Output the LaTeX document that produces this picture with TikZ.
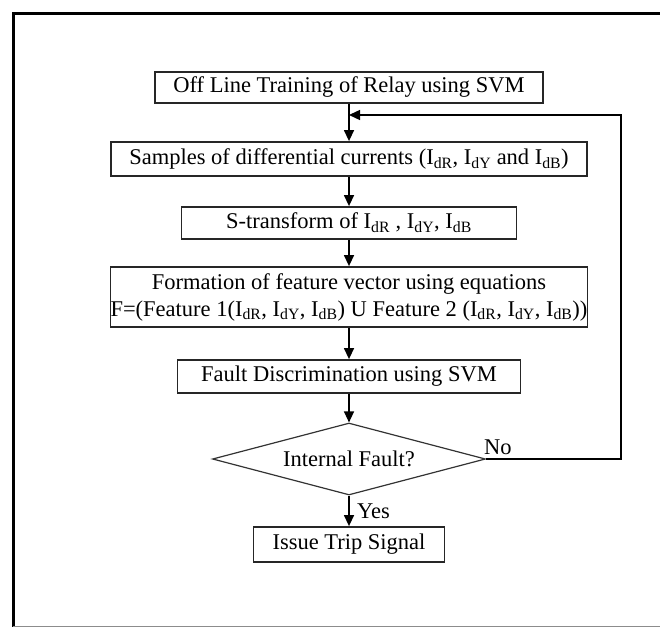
\documentclass[tikz,border=0pt]{standalone}
\usepackage{fontspec}
\setmainfont{Liberation Serif}
\usetikzlibrary{arrows.meta,shapes.geometric}
% differential current I_d with phase subscript
\newcommand{\Idc}[1]{I\textsubscript{d#1}}
\begin{document}
\begin{tikzpicture}[x=1pt,y=-1pt,
  txt/.style={font=\fontsize{22.5}{27}\selectfont},
  box/.style={txt, draw=black!85, line width=1.8pt, inner sep=0pt, align=center},
  decision/.style={txt, draw=black!80, line width=1.2pt, shape=diamond, shape aspect=3.8, inner sep=0pt},
  flow/.style={line width=1.4pt, -{Triangle[length=11pt,width=10pt]}},
  frame/.style={line width=3pt, black}
]
\useasboundingbox (0,0) rectangle (660,628);

% outer frame
\draw[frame] (672,14) -- (13,14) -- (13,627);
\draw[line width=1.5pt, black!45] (13,626.5) -- (672,626.5);

% process steps
\node[box, minimum width=388pt, minimum height=31pt] (train) at (349,87.5)
  {Off Line Training of Relay using SVM};
\node[box, minimum width=476pt, minimum height=34pt] (samp) at (349,159)
  {Samples of differential currents (\Idc{R}, \Idc{Y} and \Idc{B})};
\node[box, minimum width=335pt, minimum height=32pt] (strans) at (349,223)
  {S-transform of \Idc{R} , \Idc{Y}, \Idc{B}};
\node[box, minimum width=476pt, minimum height=60pt] (feat) at (349,297)
  {Formation of feature vector using equations\\
   F=(Feature 1(\Idc{R}, \Idc{Y}, \Idc{B}) U Feature 2 (\Idc{R}, \Idc{Y}, \Idc{B}))};
\node[box, minimum width=343pt, minimum height=33pt] (disc) at (349,376.5)
  {Fault Discrimination using SVM};
\node[decision, minimum width=273pt, minimum height=72pt] (fault) at (349,459)
  {Internal Fault?};
\node[box, minimum width=191pt, minimum height=35pt] (trip) at (349,544.5)
  {Issue Trip Signal};

% feedback loop coordinates
\coordinate (join) at (349,115);
\coordinate (loop) at (621,115);

% connectors
\draw[flow] (train) -- (samp);
\draw[flow] (samp) -- (strans);
\draw[flow] (strans) -- (feat);
\draw[flow] (feat) -- (disc);
\draw[flow] (disc) -- (fault);
\draw[flow] (fault) -- (trip);
\draw[flow] (fault.east) -| (loop) -- (join);

% branch labels
\node[txt, anchor=south west, inner sep=0pt] (no) at (484,455) {No};
\node[txt, anchor=west, inner sep=0pt] (yes) at (357,511) {Yes};
\end{tikzpicture}
\end{document}
